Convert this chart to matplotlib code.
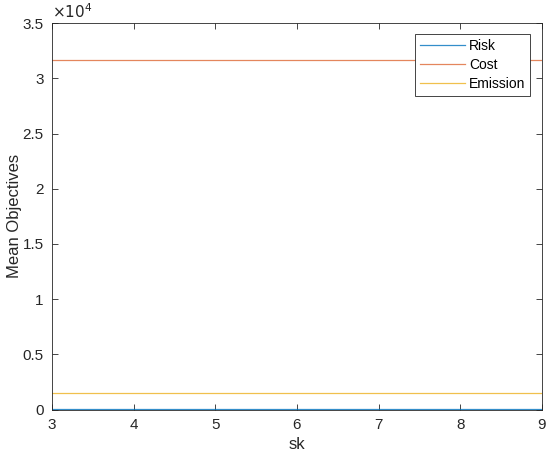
import matplotlib
matplotlib.use("Agg")
import matplotlib.pyplot as plt
import numpy as np

# values (constant over sk)
sk = [3, 4, 5, 6, 7, 8, 9]
risk = [5, 5, 5, 5, 5, 5, 5]
cost = [31650, 31650, 31650, 31650, 31650, 31650, 31650]
emission = [1470, 1470, 1470, 1470, 1470, 1470, 1470]

plt.rcParams["font.family"] = ["Liberation Sans", "DejaVu Sans"]
AX = "#262626"

fig = plt.figure(figsize=(5.5, 4.58), dpi=100)
ax = fig.add_axes([52 / 550, 1 - 409.5 / 458, 490 / 550, 386.2 / 458])

ax.plot(sk, risk, color="#0072BD", lw=0.9, alpha=0.8, label="Risk")
ax.plot(sk, cost, color="#D95319", lw=0.9, alpha=0.7, label="Cost")
ax.plot(sk, emission, color="#EDB120", lw=0.9, alpha=0.8, label="Emission")

ax.set_xlim(3, 9)
ax.set_ylim(0, 35000)
ax.set_xticks(np.arange(3, 10, 1))
yt = np.arange(0, 35001, 5000)
ax.set_yticks(yt)
ax.set_yticklabels([f"{v / 1e4:g}" for v in yt])
ax.tick_params(direction="in", top=True, right=True, length=4, width=0.6,
               colors=AX, labelsize=11, pad=6)
for s in ax.spines.values():
    s.set_color(AX)
    s.set_linewidth(0.6)

ax.text(0, 1.005, r"$\times10^{4}$", transform=ax.transAxes, ha="left",
        va="bottom", fontsize=11, color=AX)

ax.set_xlabel("sk", fontsize=12, color=AX)
ax.set_ylabel("Mean Objectives", fontsize=12, color=AX)
ax.yaxis.set_label_coords(-0.062, 0.5)

leg = ax.legend(loc="upper right", bbox_to_anchor=(0.9755, 0.972), fontsize=10,
                frameon=True, fancybox=False, edgecolor=AX, framealpha=1,
                borderpad=0.35, labelspacing=0.35, handlelength=3.2,
                handletextpad=0.3, borderaxespad=0)
leg.get_frame().set_linewidth(0.6)

fig.savefig("out.png", dpi=100)
